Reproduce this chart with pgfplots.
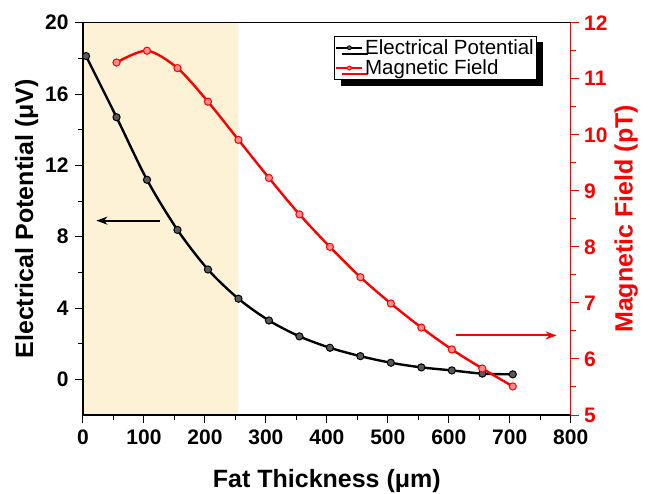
\documentclass[border=0pt]{standalone}
\usepackage{pgfplots}
\pgfplotsset{compat=1.18}
\usepackage{fontspec}
\setmainfont{Liberation Sans}
\usetikzlibrary{shadows,arrows.meta}

\definecolor{fatshade}{RGB}{253,241,214}

\pgfplotsset{
  twin/.style={
    scale only axis, width=487.7pt, height=392.3pt,
    at={(0,0)}, anchor=south west,
    xmin=0, xmax=800,
    /pgf/number format/assume math mode=true,
    tick label style={font=\fontsize{21}{24}\selectfont\bfseries},
    label style={font=\fontsize{25}{28}\selectfont\bfseries},
    tick align=outside,
    major tick length=8pt, minor tick length=5pt,
    every tick/.style={line width=1pt},
    axis line style={line width=1.2pt},
  }
}

\begin{document}
\begin{tikzpicture}
\begin{axis}[twin, name=ax, axis on top,
  ymin=-2, ymax=20, ytick={0,4,...,20}, minor y tick num=1,
  xtick={0,100,...,800}, minor x tick num=1,
  xtick pos=bottom, ytick pos=left,
  xticklabel style={yshift=-3pt},
  yticklabel style={xshift=-3pt},
  xlabel={Fat Thickness (μm)},
  xlabel style={yshift=-18pt},
  ylabel={Electrical Potential (μV)},
]
\addplot[fill=fatshade, draw=none, forget plot]
  coordinates {(0,-2) (0,20) (255,20) (255,-2) (0,-2)};
\addplot[black, line width=2.4pt, smooth, mark=*, mark size=3.6pt,
  mark options={fill=black!65, line width=1pt}] coordinates {
  (5,18.13) (55,14.70) (105,11.19) (155,8.38) (205,6.16) (255,4.52)
  (305,3.30) (355,2.41) (405,1.77) (455,1.30) (505,0.93) (555,0.67)
  (605,0.50) (655,0.32) (705,0.28)};
\draw[line width=2pt, -{Stealth[length=11pt,width=8pt]}]
  (axis cs:126,8.9) -- (axis cs:22,8.9);
\end{axis}

\begin{axis}[twin,
  axis x line=none, axis y line*=right,
  ymin=5, ymax=12, ytick={5,...,12}, minor y tick num=1,
  y axis line style={red, line width=1.2pt},
  ytick style={red, line width=1pt},
  yticklabel style={red, xshift=2pt},
  ylabel style={red},
  ylabel={Magnetic Field (pT)},
  legend style={at={(0.515,0.967)}, anchor=north west,
    font=\fontsize{20.5}{22}\selectfont, draw=black, line width=0.8pt,
    fill=white, inner xsep=1pt, inner ysep=2.5pt, row sep=2pt,
    nodes={inner xsep=2pt, inner ysep=1pt},
    drop shadow={shadow xshift=6pt, shadow yshift=-6pt, fill=black, opacity=1}},
  legend cell align=left,
  legend image code/.code={
    \draw[#1] (0pt,0pt) -- (26pt,0pt);
    \draw[#1] plot[mark size=2pt] coordinates {(13pt,0pt)};},
  legend image post style={line width=1.6pt},
]
\addlegendimage{black, mark=*, mark options={fill=black!65, line width=0.8pt}}
\addlegendentry{Electrical Potential}
\addplot[red, line width=2.4pt, smooth, mark=*, mark size=3.6pt,
  mark options={fill=red!45!white, line width=1pt}] coordinates {
  (55,11.29) (105,11.50) (155,11.19) (205,10.59) (255,9.91) (305,9.23)
  (355,8.58) (405,8.00) (455,7.46) (505,6.99) (555,6.56) (605,6.17)
  (655,5.83) (705,5.51)};
\addlegendentry{Magnetic Field}
\draw[red, line width=2pt, -{Stealth[length=11pt,width=8pt]}]
  (axis cs:612,6.42) -- (axis cs:777,6.42);
\end{axis}

\pgfresetboundingbox
\path[use as bounding box] ([xshift=-83pt,yshift=-78pt]ax.south west) rectangle ++(651pt,493pt);
\end{tikzpicture}
\end{document}
